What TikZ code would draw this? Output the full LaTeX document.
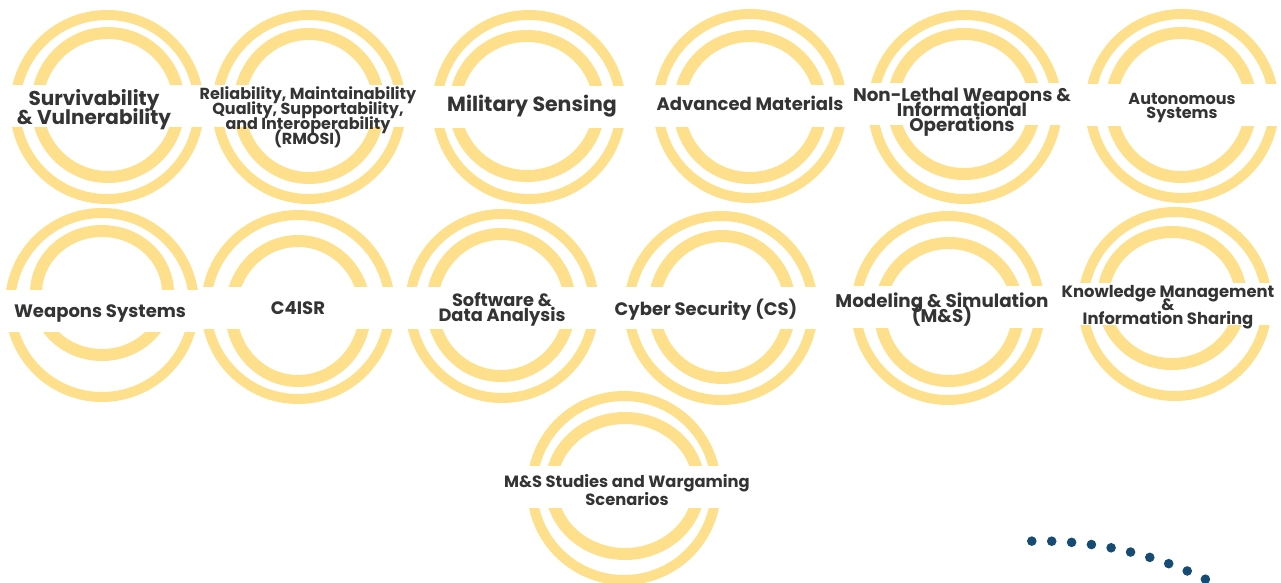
\documentclass[tikz,border=0pt]{standalone}
\usepackage{fontspec}
\setmainfont{Poppins}
\usepackage{tikz}
\definecolor{ringyellow}{RGB}{254,223,139}
\definecolor{labelgray}{RGB}{52,52,52}
\definecolor{dotblue}{RGB}{22,75,116}
\tikzset{
  outerring/.style={draw=ringyellow, line width=10pt},
  innerring/.style={draw=ringyellow, line width=12pt},
  band/.style={fill=white},
  lbl/.style={text=labelgray, align=center, inner sep=0pt}
}
% outer centre, inner centre, inner radii, band height
\newcommand{\ringpair}[7]{%
  \draw[outerring] (#1,#2) circle (92);
  \draw[innerring] (#3,#4) ellipse (#5 and #6);
  \fill[band] (#1-99,#7-21) rectangle (#1+99,#7+21);
}
\newcommand{\lblfont}[2]{\bfseries\fontsize{#1}{#2}\selectfont\lineskiplimit=-100pt\relax}

\begin{document}
\begin{tikzpicture}[x=1pt, y=-1pt]
  \useasboundingbox (0,0) rectangle (1281,583);

  % first row
  \ringpair{107}{107}{108}{105}{71}{72}{106}
  \ringpair{309}{107}{309}{106}{70}{72}{106}
  \ringpair{529}{107}{527}{106}{72}{70}{107}
  \ringpair{750}{106}{750}{107}{71}{71}{106}
  \ringpair{965}{107}{964}{104}{71}{70}{104}
  \ringpair{1182}{106}{1181}{105}{70}{72}{105}

  % second row
  \ringpair{102}{305}{102}{293}{66}{62}{311}
  \ringpair{298}{307}{298}{311}{67}{70}{308}
  \ringpair{502}{306}{501}{305}{69}{71}{308}
  \ringpair{721}{308}{722}{307}{68}{71}{308}
  \ringpair{948}{308}{949}{312}{69}{69}{307}
  \ringpair{1175}{304}{1172}{298}{69}{66}{304}

  % last one
  \ringpair{624}{488}{625}{486}{74}{68}{487}

  \node[lbl, font=\lblfont{20}{19}] (surv) at (94,110)
    {Survivability\\\& Vulnerability};
  \node[lbl, font=\lblfont{16}{15}] (rmosi) at (308,117)
    {Reliability, Maintainability\\Quality, Supportability,\\and Interoperability\\(RMOSI)};
  \node[lbl, font=\lblfont{20.5}{18}] (sensing) at (532,106)
    {Military Sensing};
  \node[lbl, font=\lblfont{18}{18}] (materials) at (750,103)
    {Advanced Materials};
  \node[lbl, font=\lblfont{18.3}{15}] (nonlethal) at (962,112)
    {Non-Lethal Weapons \&\\Informational\\Operations};
  \node[lbl, font=\lblfont{16}{13.5}] (autonomy) at (1182,108)
    {Autonomous\\Systems};

  \node[lbl, font=\lblfont{18}{18}] (weapons) at (100,313)
    {Weapons Systems};
  \node[lbl, font=\lblfont{18}{18}] (cfourisr) at (298,308)
    {C4ISR};
  \node[lbl, font=\lblfont{17.8}{15}] (software) at (502,309)
    {Software \&\\Data Analysis};
  \node[lbl, font=\lblfont{18}{18}] (cyber) at (706,310)
    {Cyber Security (CS)};
  \node[lbl, font=\lblfont{18.3}{15}] (modsim) at (942,310)
    {Modeling \& Simulation\\(M\&S)};
  \node[lbl, font=\lblfont{16.4}{13.5}] (knowledge) at (1168,307)
    {Knowledge Management\\\&\\Information Sharing};

  \node[lbl, font=\lblfont{16.3}{18}] (wargaming) at (627,490)
    {M\&S Studies and Wargaming\\Scenarios};

  % dotted arc
  \foreach \a in {0,...,9}
    \fill[dotblue] ({1040+377*sin(-1.25+3.03*\a)}, {918-377*cos(-1.25+3.03*\a)}) circle (4.8);
\end{tikzpicture}
\end{document}
